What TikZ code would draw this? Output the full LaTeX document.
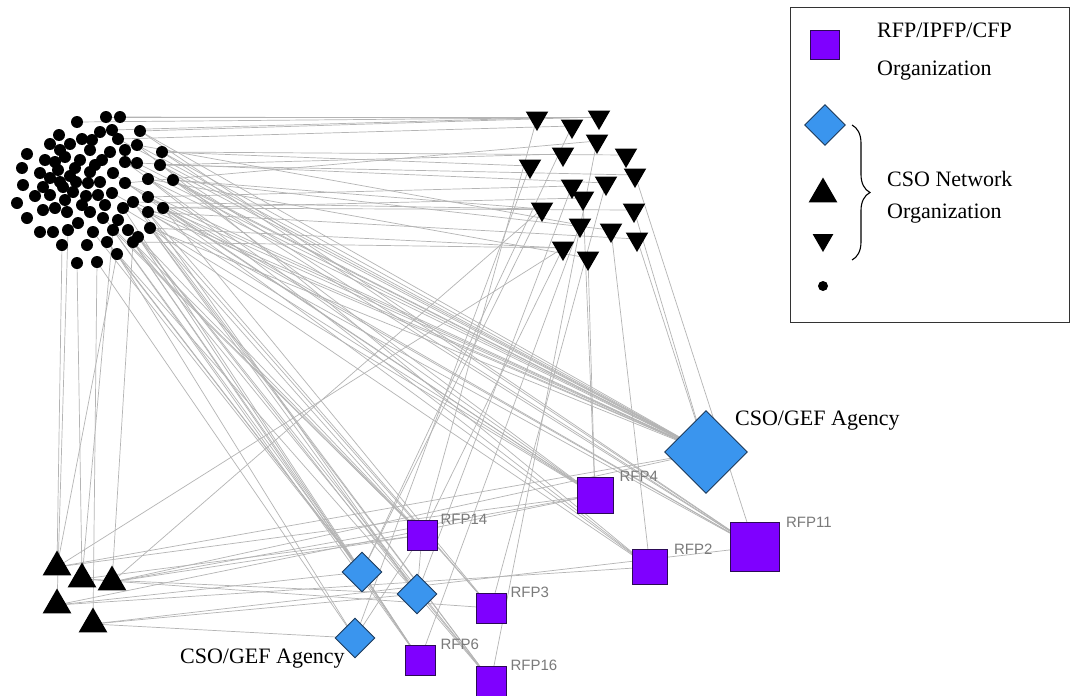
\documentclass[tikz,border=0pt]{standalone}
\usepackage{fontspec}
\setmainfont{Liberation Serif}
\newfontfamily\tagfont{Liberation Sans}
\usetikzlibrary{shapes.geometric,decorations.pathreplacing,positioning}
\pgfdeclarelayer{paper}
\pgfdeclarelayer{links}
\pgfsetlayers{paper,links,main}
\definecolor{rfpviolet}{HTML}{7F00FF}
\definecolor{rfpedge}{HTML}{2B0A55}
\definecolor{agencyblue}{HTML}{3A95EE}
\definecolor{agencyedge}{HTML}{1E3A5A}
\definecolor{linkgrey}{HTML}{B4B4B4}
\definecolor{taggrey}{HTML}{7A7A7A}
\begin{document}
\begin{tikzpicture}[x=1pt,y=-1pt,
  link/.style={draw=linkgrey,line width=0.7pt},
  member/.style={circle,fill=black,inner sep=0pt,minimum size=12pt},
  uptri/.style={regular polygon,regular polygon sides=3,fill=black,inner sep=0pt,minimum size=33pt},
  downtri/.style={regular polygon,regular polygon sides=3,shape border rotate=180,fill=black,inner sep=0pt,minimum size=26pt},
  rfp/.style={rectangle,fill=rfpviolet,draw=rfpedge,line width=0.8pt,inner sep=0pt,minimum size=#1},
  agency/.style={diamond,aspect=1,fill=agencyblue,draw=agencyedge,line width=0.9pt,inner sep=0pt,minimum size=#1},
  tag/.style={font=\tagfont\fontsize{15}{17}\selectfont,text=taggrey,inner sep=0pt},
  caption/.style={font=\fontsize{22}{26}\selectfont,inner sep=0pt}]

\useasboundingbox (0,0) rectangle (1071,696);
\begin{pgfonlayer}{paper}
  \fill[white] (0,0) rectangle (1071,696);
\end{pgfonlayer}

% CSO network members (dense cluster)
\foreach \px/\py [count=\k] in {77/122,106/117,120/117,100/132,112/130,140/131,59/135,50/144,82/139,70/144,
  90/150,118/139,137/145,162/152,110/152,27/154,55/162,65/157,102/160,125/162,
  137/163,160/165,22/168,40/173,75/168,90/172,113/173,125/183,148/179,173/180,
  50/178,23/185,43/187,63/187,88/183,50/195,98/195,112/193,133/202,148/197,
  73/192,17/203,82/205,123/208,163/208,43/210,55/208,67/212,27/218,78/223,
  103/218,148/212,40/232,53/232,68/230,93/232,113/230,138/237,150/228,62/245,
  87/245,107/242,133/242,117/254,77/263,97/262,58/170,65/200,
  45/160,60/150,80/160,95/165,60/182,70/176,86/196,105/205,35/196,76/182,
  92/140,125/150,100/182,118/220,90/212,128/230}
  \node[member] (d\k) at (\px,\py) {};

% CSO network organizations (downward triangles)
\foreach \px/\py [count=\k] in {537/118,572/126,599/117,597/141,563/154,626/155,530/166,635/175,
  572/186,606/183,583/198,542/209,634/210,580/225,611/230,637/239,563/248,588/258}
  \node[downtri] (v\k) at (\px,\py) {};

% CSO network organizations (upward triangles)
\foreach \px/\py [count=\k] in {57/567,82/579,112/582,57/605,93/624}
  \node[uptri] (u\k) at (\px,\py) {};

% CSO/GEF agencies
\node[agency=83pt] (g0) at (706,452) {};
\node[agency=40pt] (g1) at (362,572) {};
\node[agency=40pt] (g2) at (417,594) {};
\node[agency=40pt] (g3) at (355,638) {};

% RFP/IPFP/CFP organizations
\node[rfp=36pt] (rfp4) at (595,495) {};
\node[rfp=35pt] (rfp2) at (650,567) {};
\node[rfp=49pt] (rfp11) at (755,547) {};
\node[rfp=30pt] (rfp14) at (422,535) {};
\node[rfp=30pt] (rfp3) at (491,608) {};
\node[rfp=30pt] (rfp6) at (420,660) {};
\node[rfp=30pt] (rfp16) at (491,681) {};

\node[tag, right=6pt of rfp4.north east] (t4) {RFP4};
\node[tag, right=6pt of rfp2.north east] (t2) {RFP2};
\node[tag, right=6pt of rfp11.north east] (t11) {RFP11};
\node[tag, right=3pt of rfp14.north east] (t14) {RFP14};
\node[tag, right=4pt of rfp3.north east] (t3) {RFP3};
\node[tag, right=5pt of rfp6.north east] (t6) {RFP6};
\node[tag, right=4pt of rfp16.north east] (t16) {RFP16};

\node[caption, anchor=base west] (capright) at (735,425) {CSO/GEF Agency};
\node[caption, anchor=base west] (capleft) at (180,663) {CSO/GEF Agency};

% ties between organizations
\begin{pgfonlayer}{links}
\foreach \a/\b in {
  d3/v1,d6/v3,d14/v7,d22/v5,d30/v12,d45/v13,d59/v17,d40/v9,d12/v2,d13/v14,d29/v18,d52/v16,d5/v1,d21/v10,d63/v17,
  d14/v6,d22/v8,d30/v15,d45/v11,d1/v1,d2/v3,d28/v4,d39/v12,
  d6/g0,d14/g0,d22/g0,d30/g0,d45/g0,d52/g0,d29/g0,d40/g0,d13/g0,d59/g0,d21/g0,d12/g0,d28/g0,d20/g0,d39/g0,
  d14/rfp11,d30/rfp11,d45/rfp11,d22/rfp11,d6/rfp11,d38/rfp11,d28/rfp11,
  d30/rfp4,d45/rfp4,d52/rfp4,d40/rfp4,d44/rfp4,d20/rfp4,
  d13/rfp2,d29/rfp2,d59/rfp2,d27/rfp2,
  d59/rfp14,d63/rfp14,d58/rfp14,d51/rfp14,d57/rfp14,
  d64/g1,d62/g1,d57/g1,d63/g1,d56/g1,
  d59/g2,d58/g2,d52/g2,d62/g2,
  d64/g3,d66/g3,
  d58/rfp6,d63/rfp6,d57/rfp6,d44/rfp6,
  d45/rfp3,d52/rfp3,d39/rfp3,
  d59/rfp16,d63/rfp16,d39/rfp16,d58/rfp16,
  d65/u2,d66/u5,d64/u1,d63/u3,d55/u4,d57/u2,d60/u1,
  v17/u1,v12/u3,v12/g1,v7/g3,v14/rfp6,v18/rfp4,v11/rfp4,v16/g0,v13/g0,v15/rfp2,v8/rfp11,
  v9/g2,v10/rfp3,v4/rfp16,v1/rfp14,v17/rfp14,v2/g1,
  u1/rfp4,u2/rfp14,u3/rfp4,u3/g0,u4/g1,u4/rfp2,u5/g2,u5/rfp11,u1/g0,u2/rfp3,u3/rfp14,u4/rfp4,u5/g3,u2/g2,
  g2/rfp16,g2/rfp14,g1/rfp6,g3/rfp14}
  \draw[link] (\a.center) -- (\b.center);
\end{pgfonlayer}

% key
\draw[line width=1pt, draw=black!80] (790,7) rectangle (1069,322);
\node[rfp=29pt] (keyrfp) at (825,45) {};
\node[caption, anchor=base west] (keyrfptext) at (877,37) {RFP/IPFP/CFP};
\node[caption, anchor=base west] (keyrfporg) at (877,75) {Organization};
\node[agency=41pt] (keyagency) at (825,125) {};
\node[uptri] (keyup) at (823,194) {};
\node[downtri, minimum size=24pt] (keydown) at (823,240) {};
\node[member, minimum size=10pt] (keymember) at (823,286) {};
\draw[decorate, decoration={brace, amplitude=18pt}, line width=1.1pt] (852,125) -- (852,260);
\node[caption, anchor=base west] (keycso) at (887,186) {CSO Network};
\node[caption, anchor=base west] (keycsoorg) at (887,218) {Organization};
\end{tikzpicture}
\end{document}
